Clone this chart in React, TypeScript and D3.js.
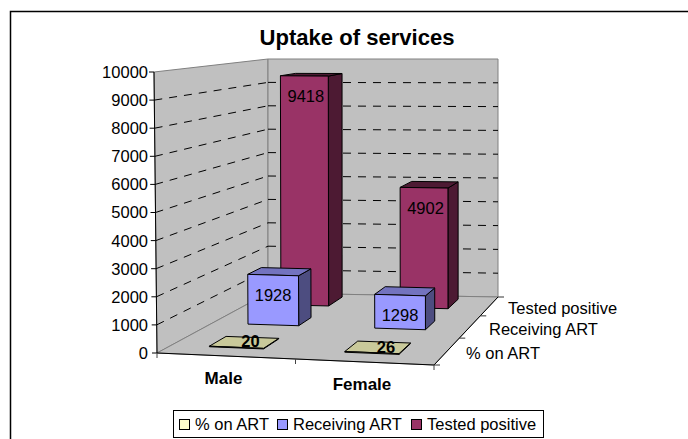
import React from "react";
import * as d3 from "d3";

const categories = ["Male", "Female"];
const seriesNames = ["% on ART", "Receiving ART", "Tested positive"];
const percentOnArt = [20, 26];
const receivingArt = [1928, 1298];
const testedPositive = [9418, 4902];
const yTicks = [0, 1000, 2000, 3000, 4000, 5000, 6000, 7000, 8000, 9000, 10000];
const seriesValues = [percentOnArt, receivingArt, testedPositive];
const faceColors = ["#c9c99a", "#9999ff", "#993366"];
const topColors = ["#c9c99a", "#7373bf", "#4d1a33"];
const sideColors = ["#8a8a66", "#4d4d80", "#4d1a33"];
const swatchColors = ["#ffffcc", "#9999ff", "#993366"];

const FONT = "'Liberation Sans', Arial, sans-serif";
const W = 688;
const H = 439;
const FS = 16.5;

// floor corners in screen space: front/back, left/right
const FL: [number, number] = [157, 353];
const FR: [number, number] = [434, 365];
const BL: [number, number] = [268, 293];
const BR: [number, number] = [498, 297];

const uBand = d3.scaleBand<string>().domain(categories).range([-0.01, 0.99]).paddingInner(0.6).paddingOuter(0.3);
const depth = d3.scaleLinear().domain([0, 1, 2, 3, 4, 5, 6, 7]).range([0, 0.13, 0.29, 0.5, 0.63, 0.815, 0.957, 1]);
const unitY = d3.scaleLinear().domain([0, 10000]).range([0, 1]);

function project(u: number, v: number, val = 0): [number, number] {
  const lerp = (a: number, b: number, t: number) => a + (b - a) * t;
  const fx = lerp(FL[0], FR[0], u);
  const fy = lerp(FL[1], FR[1], u);
  const bx = lerp(BL[0], BR[0], u);
  const by = lerp(BL[1], BR[1], u);
  const t = unitY(val);
  const height = lerp(lerp(281, 285, u), lerp(234, 238, u), v);
  const x = lerp(fx, bx, v) - 3 * t * (1 - v) * (1 - u);
  return [x, lerp(fy, by, v) - height * t];
}
const pts = (p: [number, number][]) => p.map((q) => q.join(",")).join(" ");
const line = d3.line();

export default function App() {
  const gridVals = yTicks.filter((t) => t > 0 && t < 10000);
  const dataLabelOffset = [[14, -6], [0, 19.5], [1.5, 20.5]];
  const legendX = [179, 277, 411];
  const legendTextX = [195, 293, 427];
  const depthLabels = [
    { name: seriesNames[2], x: 508, y: 308 },
    { name: seriesNames[1], x: 489, y: 329 },
    { name: seriesNames[0], x: 466, y: 353 },
  ];
  const depthTicks = [0, 2.5, 4.5, 7];

  return (
    <svg width={W} height={H} style={{ position: "absolute", left: 0, top: 0, background: "#fff" }} fontFamily={FONT}>
      <path d={`M10.5,${H} V11.5 H${W}`} fill="none" stroke="#000" strokeWidth={1.5} />
      <text x={357} y={45} textAnchor="middle" fontSize={22} fontWeight="bold" textLength={195} lengthAdjust="spacingAndGlyphs">Uptake of services</text>

      {/* walls and floor */}
      <polygon points={pts([project(0, 0), project(0, 0, 10000), project(0, 1, 10000), project(0, 1)])} fill="#c0c0c0" stroke="#808080" />
      <polygon points={pts([project(0, 1), project(0, 1, 10000), project(1, 1, 10000), project(1, 1)])} fill="#c0c0c0" stroke="#808080" strokeWidth={1} />
      <polygon points={pts([project(0, 0), project(1, 0), project(1, 1), project(0, 1)])} fill="#c0c0c0" stroke="#808080" />

      {gridVals.map((t) => (
        <g key={t} fill="none" stroke="#000" strokeDasharray="8 7">
          <path d={line([project(0, 0, t), project(0, 1, t)])!} />
          <path d={line([project(0, 1, t), project(1, 1, t)])!} />
        </g>
      ))}

      {/* axes */}
      <path d={line([project(0, 0), project(0, 0, 10000)])!} stroke="#000" fill="none" />
      <path d={line([project(0, 0), project(1, 0)])!} stroke="#000" fill="none" />
      <path d={line([project(1, 0), project(1, 1)])!} stroke="#000" fill="none" />
      {yTicks.map((t) => {
        const [x, y] = project(0, 0, t);
        return (
          <g key={t}>
            <path d={`M${x - 5},${y} H${x}`} stroke="#000" />
            <text x={148} y={y} dy="0.36em" textAnchor="end" fontSize={FS}>{t}</text>
          </g>
        );
      })}
      {[0, 0.5, 1].map((u) => {
        const [x, y] = project(u, 0);
        return <path key={u} d={`M${x},${y} V${y + 5}`} stroke="#444" />;
      })}
      {depthTicks.map((d) => {
        const [x, y] = project(1, depth(d));
        return <path key={d} d={`M${x},${y} H${x + 6}`} stroke="#333" />;
      })}

      {/* bars, back row first */}
      {[2, 1, 0].map((s) =>
        categories.map((c, i) => {
          const v = seriesValues[s][i];
          const u0 = uBand(c)!;
          const u1 = u0 + uBand.bandwidth();
          const d0 = depth(2 * s + 1);
          const d1 = depth(2 * s + 2);
          return (
            <g key={`${s}-${c}`} stroke="#000" strokeLinejoin="round">
              <polygon points={pts([project(u1, d0), project(u1, d0, v), project(u1, d1, v), project(u1, d1)])} fill={sideColors[s]} />
              <polygon points={pts([project(u0, d0, v), project(u1, d0, v), project(u1, d1, v), project(u0, d1, v)])} fill={topColors[s]} />
              <polygon points={pts([project(u0, d0), project(u1, d0), project(u1, d0, v), project(u0, d0, v)])} fill={faceColors[s]} />
            </g>
          );
        })
      )}
      {[2, 1, 0].map((s) =>
        categories.map((c, i) => {
          const v = seriesValues[s][i];
          const u = uBand(c)! + uBand.bandwidth() / 2;
          const [x, y] = project(u, depth(2 * s + 1), v);
          return (
            <text key={`${s}-${c}-l`} x={x + dataLabelOffset[s][0]} y={y + dataLabelOffset[s][1]} dy="0.36em" textAnchor="middle" fontSize={FS} fontWeight={s === 0 ? "bold" : "normal"}>
              {v}
            </text>
          );
        })
      )}

      {/* category labels */}
      {categories.map((c) => {
        const u = uBand(c)! + uBand.bandwidth() / 2;
        const [x, y] = project(u, 0);
        return (
          <text key={c} x={x} y={y + 22} dy="0.36em" textAnchor="middle" fontSize={17} fontWeight="bold">{c}</text>
        );
      })}
      {depthLabels.map((l) => (
        <text key={l.name} x={l.x} y={l.y} dy="0.36em" fontSize={FS}>{l.name}</text>
      ))}

      {/* legend */}
      <rect x={173.5} y={410.5} width={370} height={27} fill="#fff" stroke="#000" />
      {seriesNames.map((n, i) => (
        <g key={n}>
          <rect x={legendX[i] + 0.5} y={419.5} width={10} height={10} fill={swatchColors[i]} stroke="#000" />
          <text x={legendTextX[i]} y={424.5} dy="0.36em" fontSize={FS}>{n}</text>
        </g>
      ))}
    </svg>
  );
}
